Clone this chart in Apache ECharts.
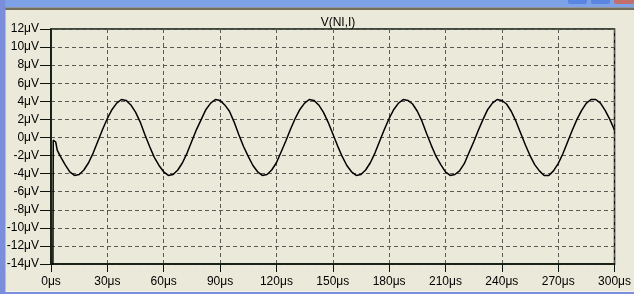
<!DOCTYPE html>
<html>
<head>
<meta charset="utf-8">
<script src="https://cdn.jsdelivr.net/npm/echarts@6/dist/echarts.min.js"></script>
<style>
html,body{margin:0;padding:0;background:#EBE9D9;}
#c{width:634px;height:294px;}
</style>
</head>
<body>
<div id="c"></div>
<script>
// ---- data ----
var title = 'V(NI,I)';
var xTickLabels = ['0μs','30μs','60μs','90μs','120μs','150μs','180μs','210μs','240μs','270μs','300μs'];
var yTickLabels = ['-14μV','-12μV','-10μV','-8μV','-6μV','-4μV','-2μV','0μV','2μV','4μV','6μV','8μV','10μV','12μV'];
// time in μs
var timeUs = [0.8, 1.2, 2.5, 3.3,
  5, 7.5, 10, 12.5, 15, 17.5, 20, 22.5, 25, 27.5, 30, 32.5, 35, 37.5, 40, 42.5, 45, 47.5, 50,
  52.5, 55, 57.5, 60, 62.5, 65, 67.5, 70, 72.5, 75, 77.5, 80, 82.5, 85, 87.5, 90, 92.5, 95, 97.5, 100,
  102.5, 105, 107.5, 110, 112.5, 115, 117.5, 120, 122.5, 125, 127.5, 130, 132.5, 135, 137.5, 140, 142.5, 145, 147.5, 150,
  152.5, 155, 157.5, 160, 162.5, 165, 167.5, 170, 172.5, 175, 177.5, 180, 182.5, 185, 187.5, 190, 192.5, 195, 197.5, 200,
  202.5, 205, 207.5, 210, 212.5, 215, 217.5, 220, 222.5, 225, 227.5, 230, 232.5, 235, 237.5, 240, 242.5, 245, 247.5, 250,
  252.5, 255, 257.5, 260, 262.5, 265, 267.5, 270, 272.5, 275, 277.5, 280, 282.5, 285, 287.5, 290, 292.5, 295, 297.5, 300];
// V(NI,I) in μV
var voltUv = [-30, -0.3, -0.5, -1.4,
  -2.1, -3.0, -3.8, -4.2, -4.1, -3.6, -2.8, -1.7, -0.4, 0.9, 2.1, 3.1, 3.8, 4.2, 4.1, 3.6, 2.8, 1.7, 0.3,
  -1.0, -2.2, -3.1, -3.8, -4.2, -4.1, -3.6, -2.8, -1.7, -0.4, 0.9, 2.0, 3.1, 3.8, 4.2, 4.1, 3.6, 2.9, 1.7, 0.3,
  -1.0, -2.1, -3.1, -3.8, -4.2, -4.1, -3.6, -2.8, -1.6, -0.4, 0.9, 2.1, 3.1, 3.8, 4.2, 4.1, 3.6, 2.8, 1.7, 0.4,
  -0.9, -2.1, -3.1, -3.8, -4.2, -4.1, -3.6, -2.8, -1.7, -0.4, 0.9, 2.1, 3.1, 3.8, 4.2, 4.1, 3.7, 2.9, 1.8, 0.4,
  -0.9, -2.1, -3.0, -3.8, -4.2, -4.1, -3.7, -2.9, -1.7, -0.5, 0.8, 2.0, 3.1, 3.8, 4.2, 4.1, 3.7, 2.9, 1.8, 0.5,
  -0.8, -2.0, -3.0, -3.7, -4.2, -4.2, -3.7, -2.9, -1.8, -0.5, 0.8, 2.0, 3.0, 3.8, 4.2, 4.2, 3.8, 3.0, 2.0, 0.8];

var pts = timeUs.map(function (t, i) { return [t, voltUv[i]]; });
var font = '"Liberation Sans", Arial, sans-serif';

var chart = echarts.init(document.getElementById('c'), null, {renderer: 'canvas'});
chart.setOption({
  backgroundColor: '#EBE9D9',
  animation: false,
  title: {
    text: title, left: 333, top: 12, textAlign: 'center',
    textStyle: {fontFamily: font, fontSize: 12, fontWeight: 'normal', color: '#000'}
  },
  grid: {left: 51, top: 29, width: 565, height: 235, show: true,
         borderColor: '#0a140a', borderWidth: 1.5, backgroundColor: 'transparent'},
  xAxis: {
    type: 'value', min: 0, max: 300, interval: 30,
    axisLine: {show: true, onZero: false, lineStyle: {color: '#0a140a', width: 1.5}},
    axisTick: {show: true, inside: false, length: 8, lineStyle: {color: '#0a140a', width: 1}},
    axisLabel: {margin: 12, fontFamily: font, fontSize: 12, color: '#000',
      formatter: function (v) { return xTickLabels[Math.round(v / 30)]; }},
    splitLine: {show: true, lineStyle: {color: '#5a5a55', type: [4, 3], width: 1}}
  },
  yAxis: {
    type: 'value', min: -14, max: 12, interval: 2,
    axisLine: {show: true, onZero: false, lineStyle: {color: '#0a140a', width: 1.5}},
    axisTick: {show: true, inside: false, length: 11, lineStyle: {color: '#0a140a', width: 1}},
    axisLabel: {margin: 12, fontFamily: font, fontSize: 12, color: '#000',
      formatter: function (v) { return yTickLabels[Math.round((v + 14) / 2)]; }},
    splitLine: {show: true, lineStyle: {color: '#5a5a55', type: [4, 3], width: 1}}
  },
  series: [{
    type: 'line', data: pts, showSymbol: false, clip: true, smooth: false,
    lineStyle: {color: '#000', width: 1.5}
  }],
  graphic: [
    {type: 'rect', shape: {x: 0, y: 0, width: 634, height: 7.5}, style: {fill: '#7DA2E7'}, z: 10},
    {type: 'rect', shape: {x: 0, y: 7.5, width: 634, height: 2.5}, style: {fill: '#736D5B'}, z: 10},
    {type: 'rect', shape: {x: 0, y: 0, width: 5.5, height: 294}, style: {fill: '#7B8EDB'}, z: 11},
    {type: 'rect', shape: {x: 0, y: 291, width: 634, height: 1}, style: {fill: '#F4F3EE'}, z: 10},
    {type: 'rect', shape: {x: 0, y: 292, width: 634, height: 2}, style: {fill: '#7B8EDB'}, z: 10},
    {type: 'rect', shape: {x: 568, y: -4, width: 19, height: 8, r: 2}, style: {fill: '#5A86E2'}, z: 12},
    {type: 'rect', shape: {x: 591, y: -4, width: 19, height: 8, r: 2}, style: {fill: '#5A86E2'}, z: 12},
    {type: 'rect', shape: {x: 614, y: -4, width: 20, height: 8, r: 2}, style: {fill: '#C26E6C'}, z: 12}
  ]
});
</script>
</body>
</html>
